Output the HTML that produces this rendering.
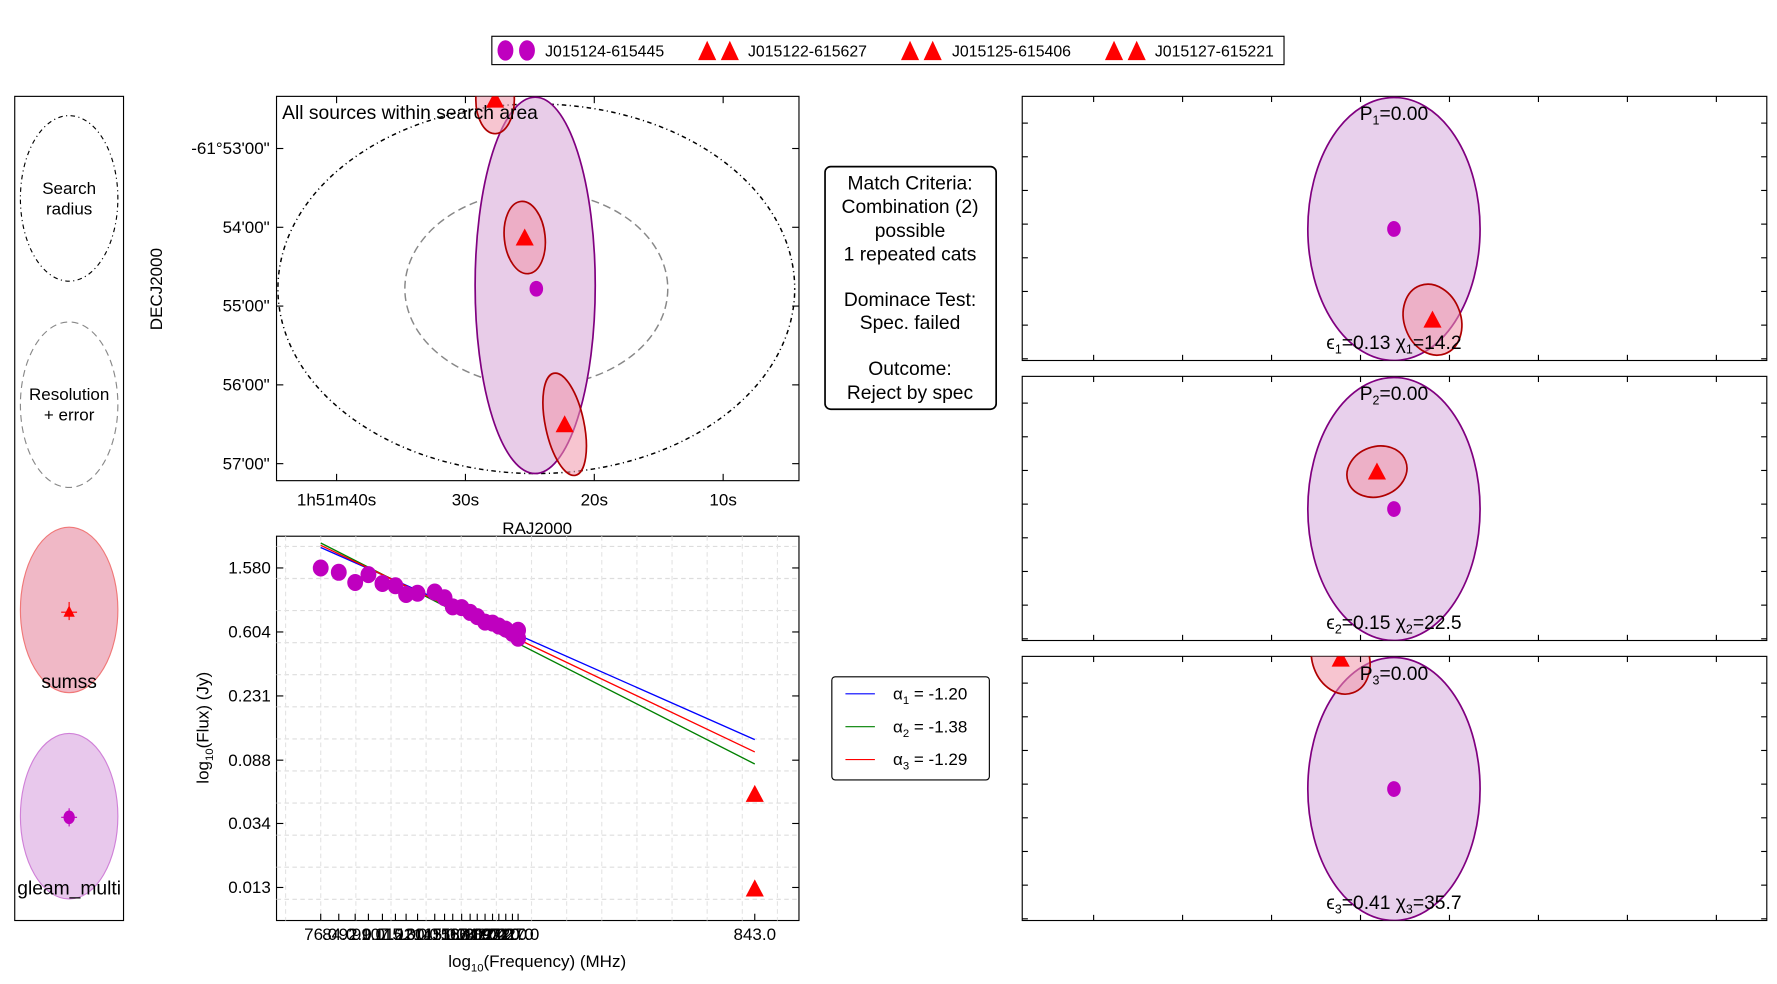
<!DOCTYPE html>
<html><head><meta charset="utf-8"><style>
html,body{margin:0;padding:0;background:#fff;}
svg{display:block;font-family:"Liberation Sans",sans-serif;}
</style></head><body>
<svg id="fig" width="1777" height="984" viewBox="0 0 1568 868" preserveAspectRatio="none" xmlns="http://www.w3.org/2000/svg">
<defs>
<clipPath id="skyclip"><rect x="244" y="85" width="461" height="339"/></clipPath>
<clipPath id="p1clip"><rect x="902" y="85" width="657" height="233"/></clipPath>
<clipPath id="p2clip"><rect x="902" y="332" width="657" height="233"/></clipPath>
<clipPath id="p3clip"><rect x="902" y="579" width="657" height="233"/></clipPath>
</defs>

<g>
<rect x="434" y="32" width="699" height="25" fill="#fff" stroke="#000" stroke-width="1"/>
<g font-size="14" fill="#000">
<ellipse cx="446" cy="44.5" rx="7" ry="9" fill="#bf00bf"/><ellipse cx="465" cy="44.5" rx="7" ry="9" fill="#bf00bf"/>
<text x="481" y="50">J015124-615445</text>
<path d="M616,53 L624,36 L632,53Z M636,53 L644,36 L652,53Z" fill="#f00"/>
<text x="660" y="50">J015122-615627</text>
<path d="M795,53 L803,36 L811,53Z M815,53 L823,36 L831,53Z" fill="#f00"/>
<text x="840" y="50">J015125-615406</text>
<path d="M975,53 L983,36 L991,53Z M995,53 L1003,36 L1011,53Z" fill="#f00"/>
<text x="1019" y="50">J015127-615221</text>
</g></g>

<g>
<rect x="13" y="85" width="96" height="727" fill="#fff" stroke="#000"/>
<ellipse cx="61" cy="175" rx="43" ry="73" fill="none" stroke="#000" stroke-dasharray="1,3,4,3"/>
<text x="61" y="171" font-size="15" text-anchor="middle">Search</text>
<text x="61" y="189" font-size="15" text-anchor="middle">radius</text>
<ellipse cx="61" cy="357" rx="43" ry="73" fill="none" stroke="#888" stroke-dasharray="6,4"/>
<text x="61" y="353" font-size="15" text-anchor="middle">Resolution</text>
<text x="61" y="371" font-size="15" text-anchor="middle">+ error</text>
<ellipse cx="61" cy="538" rx="43" ry="73" fill="#f0b8c6" stroke="#f07878"/>
<path d="M56,544 L61,534 L66,544Z" fill="#f00"/><line x1="61" y1="531" x2="61" y2="547" stroke="#f00"/><line x1="54" y1="540" x2="68" y2="540" stroke="#f00"/>
<text x="61" y="607" font-size="17" text-anchor="middle">sumss</text>
<ellipse cx="61" cy="720" rx="43" ry="73" fill="#e8c8ec" stroke="#d080d8"/>
<ellipse cx="61" cy="721" rx="5" ry="6" fill="#bf00bf"/><line x1="61" y1="713" x2="61" y2="729" stroke="#bf00bf"/><line x1="54" y1="721" x2="68" y2="721" stroke="#bf00bf"/>
<text x="61" y="789" font-size="17" text-anchor="middle">gleam_multi</text>
</g>

<g id="sky">
<rect x="244" y="85" width="461" height="339" fill="#fff" stroke="#000"/>
<g id="skymarks" clip-path="url(#skyclip)"></g>
<g id="skyticks" font-size="15"></g>
<text x="249" y="105" font-size="17">All sources within search area</text>
<text x="474" y="471" font-size="15" text-anchor="middle">RAJ2000</text>
<text transform="translate(143,255) rotate(-90)" font-size="15" text-anchor="middle">DECJ2000</text>
</g>

<g font-size="17" text-anchor="middle">
<rect x="728" y="147" width="151" height="214" rx="5" fill="#fff" stroke="#000" stroke-width="1.5"/>
<text x="803" y="167">Match Criteria:</text>
<text x="803" y="188">Combination (2)</text>
<text x="803" y="209">possible</text>
<text x="803" y="230">1 repeated cats</text>
<text x="803" y="270">Dominace Test:</text>
<text x="803" y="290">Spec. failed</text>
<text x="803" y="331">Outcome:</text>
<text x="803" y="352">Reject by spec</text>
</g>

<g>
<rect x="244" y="473" width="461" height="339" fill="#fff" stroke="#000"/>
<g id="specgrid"></g>
<g id="specmarks"></g>
<g id="specticks" font-size="15"></g>
<text transform="translate(184,642) rotate(-90)" font-size="15" text-anchor="middle">log<tspan font-size="10" dy="4">10</tspan><tspan dy="-4">(Flux) (Jy)</tspan></text>
<text x="474" y="853" font-size="15" text-anchor="middle">log<tspan font-size="10" dy="4">10</tspan><tspan dy="-4">(Frequency) (MHz)</tspan></text>
</g>

<g font-size="15">
<rect x="734" y="597" width="139" height="91" rx="3" fill="#fff" stroke="#000"/>
<line x1="746" y1="612" x2="772" y2="612" stroke="#00f"/>
<text x="788" y="617">α<tspan font-size="10" dy="4">1</tspan><tspan dy="-4"> = -1.20</tspan></text>
<line x1="746" y1="641" x2="772" y2="641" stroke="#008000"/>
<text x="788" y="646">α<tspan font-size="10" dy="4">2</tspan><tspan dy="-4"> = -1.38</tspan></text>
<line x1="746" y1="670" x2="772" y2="670" stroke="#f00"/>
<text x="788" y="675">α<tspan font-size="10" dy="4">3</tspan><tspan dy="-4"> = -1.29</tspan></text>
</g>

<g id="panels"></g>
</svg>
<script>
const skyRaTicks = [40, 30, 20, 10];
const skyRaLabels = ["1h51m40s", "30s", "20s", "10s"];
const skyDecTicks = [0, 1, 2, 3, 4];
const skyDecLabels = ["-61°53'00\"", "54'00\"", "55'00\"", "56'00\"", "57'00\""];
const gleamPos = [24.5, 1.78];
const sumssRa = [22.3, 25.4, 27.7];
const sumssDec = [3.50, 1.13, -0.62];
const sumssWidth = [17, 18, 17];
const sumssHeight = [46, 32, 30];
const sumssAngle = [-12, -6, 0];
const gleamFreq = [76,84,92,99,107,115,122,130,143,151,158,166,174,181,189,197,204,212,220,227,227];
const gleamFlux = [1.58,1.48,1.27,1.43,1.25,1.21,1.06,1.08,1.10,1.01,0.88,0.87,0.81,0.76,0.70,0.69,0.66,0.63,0.59,0.55,0.62];
const sumssFreq = [843, 843];
const sumssFlux = [0.053, 0.0128];
const fitAlpha = [-1.20, -1.38, -1.29];
const fitNorm76 = [2.15, 2.30, 2.22];
const fitColors = ["#00f", "#008000", "#f00"];
const fluxTicks = [1.580, 0.604, 0.231, 0.088, 0.034, 0.013];
const fluxTickLabels = ["1.580","0.604","0.231","0.088","0.034","0.013"];
const panelP = ["0.00","0.00","0.00"];
const panelEps = ["0.13","0.15","0.41"];
const panelChi = ["14.2","22.5","35.7"];
const panelSumssDx = [34, -15, -47];
const panelSumssDy = [81, -32, -114];

const NS = "http://www.w3.org/2000/svg";
function mk(tag, attrs, parent){const e=document.createElementNS(NS,tag);for(const k in attrs)e.setAttribute(k,attrs[k]);if(parent)parent.appendChild(e);return e;}

const sx = s => 297 + (40 - s) * 11.37;
const sy = d => 131 + d * 69.5;
const skyM = document.getElementById('skymarks');
const skyT = document.getElementById('skyticks');
skyRaTicks.forEach((t,i)=>{
  mk('line',{x1:sx(t),y1:424,x2:sx(t),y2:418,stroke:'#000'},skyT);
  mk('line',{x1:sx(t),y1:85,x2:sx(t),y2:91,stroke:'#000'},skyT);
  const tx=mk('text',{x:sx(t),y:446,'text-anchor':'middle'},skyT);tx.textContent=skyRaLabels[i];
  
  
});
skyDecTicks.forEach((t,i)=>{
  mk('line',{x1:244,y1:sy(t),x2:250,y2:sy(t),stroke:'#000'},skyT);
  mk('line',{x1:705,y1:sy(t),x2:699,y2:sy(t),stroke:'#000'},skyT);
  const tx=mk('text',{x:238,y:sy(t)+5,'text-anchor':'end'},skyT);tx.textContent=skyDecLabels[i];
  
  
});
const gx=sx(gleamPos[0]), gy=sy(gleamPos[1]);
let e=mk('ellipse',{cx:gx,cy:gy,rx:228,ry:163,fill:'none',stroke:'#000','stroke-width':1.3,'stroke-dasharray':'1,3,4,3'},skyM);


e=mk('ellipse',{cx:gx,cy:gy,rx:116,ry:86,fill:'none',stroke:'#888','stroke-width':1.3,'stroke-dasharray':'7,4'},skyM);


e=mk('ellipse',{cx:gx-1,cy:gy-3,rx:53,ry:166,fill:'#e8cce8',stroke:'#800080','stroke-width':1.5},skyM);


sumssRa.forEach((r,i)=>{
  const x=sx(r),y=sy(sumssDec[i]);
  const el=mk('ellipse',{cx:x,cy:y,rx:sumssWidth[i],ry:sumssHeight[i],transform:`rotate(${sumssAngle[i]} ${x} ${y})`,fill:'rgba(240,150,170,0.55)',stroke:'#b00000','stroke-width':1.5},skyM);
  
  
  const tr=mk('path',{d:`M${x-8},${y+7} L${x},${y-8} L${x+8},${y+7}Z`,fill:'#f00'},skyM);
  
  
});
e=mk('ellipse',{cx:gx,cy:gy,rx:6,ry:7,fill:'#bf00bf'},skyM);



const fx = f => 283 + (Math.log10(f) - Math.log10(76)) * 366.5;
const fy = v => 501 - (Math.log10(v) - Math.log10(1.58)) * 135.2;
const grid = document.getElementById('specgrid');
for(let y=482;y<812;y+=28.3) mk('line',{x1:244,y1:y,x2:705,y2:y,stroke:'#ddd','stroke-dasharray':'4,3'},grid);
for(let x=252;x<705;x+=31) mk('line',{x1:x,y1:473,x2:x,y2:812,stroke:'#e4e4e4','stroke-dasharray':'4,3'},grid);
const sT=document.getElementById('specticks');
fluxTicks.forEach((t,i)=>{
  mk('line',{x1:244,y1:fy(t),x2:250,y2:fy(t),stroke:'#000'},sT);
  mk('line',{x1:705,y1:fy(t),x2:699,y2:fy(t),stroke:'#000'},sT);
  const tx=mk('text',{x:239,y:fy(t)+5,'text-anchor':'end'},sT);tx.textContent=fluxTickLabels[i];
  
  
});
const freqTicks=[...new Set(gleamFreq)].concat([843]);
freqTicks.forEach(f=>{
  mk('line',{x1:fx(f),y1:812,x2:fx(f),y2:806,stroke:'#000'},sT);
  const tx=mk('text',{x:fx(f),y:829,'text-anchor':'middle'},sT);tx.textContent=f.toFixed(1);
  
  
});
const sM=document.getElementById('specmarks');
fitAlpha.forEach((a,i)=>{
  const f0=76,f1=843;
  const l=mk('line',{x1:fx(f0),y1:fy(fitNorm76[i]),x2:fx(f1),y2:fy(fitNorm76[i]*Math.pow(f1/f0,a)),stroke:fitColors[i],'stroke-width':1.2},sM);
  
  
});
gleamFreq.forEach((f,i)=>{
  const c=mk('ellipse',{cx:fx(f),cy:fy(gleamFlux[i]),rx:7,ry:7.5,fill:'#bf00bf'},sM);
  
  
});
sumssFreq.forEach((f,i)=>{
  const x=fx(f),y=fy(sumssFlux[i]);
  const t=mk('path',{d:`M${x-8},${y+7} L${x},${y-8} L${x+8},${y+7}Z`,fill:'#f00'},sM);
  
  
});

const panels=document.getElementById('panels');
const panelTops=[85,332,579];
panelTops.forEach((top,i)=>{
  const g=mk('g',{},panels);
  
  
  mk('rect',{x:902,y:top,width:657,height:233,fill:'#fff',stroke:'#000'},g);
  const inner=mk('g',{'clip-path':`url(#p${i+1}clip)`},g);
  const cx=1230, cy=top+116;
  mk('ellipse',{cx:cx,cy:cy+1,rx:76,ry:116,fill:'#e8d0ec',stroke:'#800080','stroke-width':1.5},inner);
  const px=cx+panelSumssDx[i], py=cy+panelSumssDy[i];
  const rx=i==1?27:25, ry=i==1?22:32;
  mk('ellipse',{cx:px,cy:py,rx:rx,ry:ry,transform:`rotate(-20 ${px} ${py})`,fill:'rgba(240,150,170,0.55)',stroke:'#b00000','stroke-width':1.5},inner);
  mk('path',{d:`M${px-8},${py+7} L${px},${py-8} L${px+8},${py+7}Z`,fill:'#f00'},inner);
  mk('ellipse',{cx:cx,cy:cy+1,rx:6,ry:7,fill:'#bf00bf'},inner);
  for(let k=0;k<8;k++){const x=965+k*78.5;
    mk('line',{x1:x,y1:top,x2:x,y2:top+5,stroke:'#000'},g);
    mk('line',{x1:x,y1:top+233,x2:x,y2:top+228,stroke:'#000'},g);}
  for(let k=0;k<8;k++){const y=top+23.6+k*29.7;
    mk('line',{x1:902,y1:y,x2:907,y2:y,stroke:'#000'},g);
    mk('line',{x1:1559,y1:y,x2:1554,y2:y,stroke:'#000'},g);}
  const t1=mk('text',{x:cx,y:top+21,'font-size':17,'text-anchor':'middle'},g);
  t1.innerHTML=`P<tspan font-size="11" dy="4">${i+1}</tspan><tspan dy="-4">=${panelP[i]}</tspan>`;
  
  
  const t2=mk('text',{x:cx,y:top+223,'font-size':17,'text-anchor':'middle'},g);
  t2.innerHTML=`ϵ<tspan font-size="11" dy="4">${i+1}</tspan><tspan dy="-4">=${panelEps[i]} χ</tspan><tspan font-size="11" dy="4">${i+1}</tspan><tspan dy="-4">=${panelChi[i]}</tspan>`;
  
  
});
</script>
</body></html>
